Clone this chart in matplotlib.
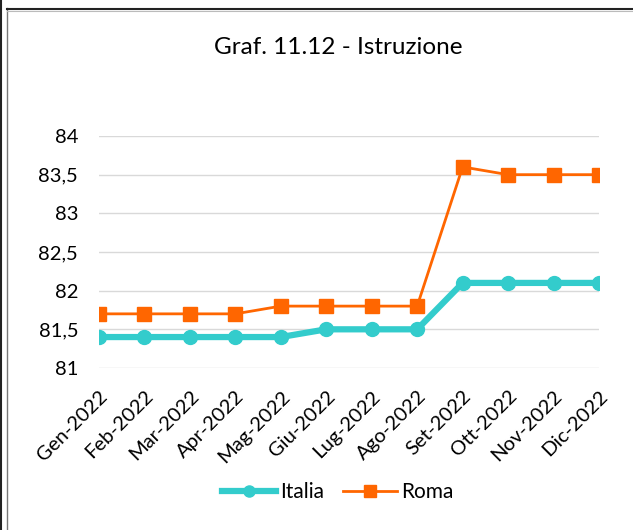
import matplotlib.pyplot as plt
from matplotlib.lines import Line2D
from matplotlib.ticker import FuncFormatter

plt.rcParams['font.family'] = ['Lato', 'DejaVu Sans']

# data
months = ['Gen-2022', 'Feb-2022', 'Mar-2022', 'Apr-2022', 'Mag-2022', 'Giu-2022',
          'Lug-2022', 'Ago-2022', 'Set-2022', 'Ott-2022', 'Nov-2022', 'Dic-2022']
italia = [81.4, 81.4, 81.4, 81.4, 81.4, 81.5, 81.5, 81.5, 82.1, 82.1, 82.1, 82.1]
roma = [81.7, 81.7, 81.7, 81.7, 81.8, 81.8, 81.8, 81.8, 83.6, 83.5, 83.5, 83.5]
y_ticks = [81, 81.5, 82, 82.5, 83, 83.5, 84]

fig = plt.figure(figsize=(6.33, 5.30), dpi=100)
ax = fig.add_axes([0.1564, 0.3057, 0.7899, 0.4377])

x = list(range(len(months)))
ax.plot(x, italia, color='#33CCCC', lw=4.5, marker='o', markersize=10,
        label='Italia', solid_capstyle='round', zorder=3)
ax.plot(x, roma, color='#FF6600', lw=2, marker='s', markersize=10,
        label='Roma', zorder=4)

ax.set_xlim(0, len(months) - 1)
ax.set_ylim(81, 84)
ax.set_yticks(y_ticks)
ax.yaxis.set_major_formatter(FuncFormatter(lambda v, p: f'{v:g}'.replace('.', ',')))
ax.set_xticks(x)
ax.set_xticklabels(months, rotation=45, ha='right', rotation_mode='anchor')
ax.tick_params(axis='both', length=0, labelsize=14.5, colors='black')
ax.tick_params(axis='y', pad=15)
ax.tick_params(axis='x', pad=14)
ax.grid(axis='y', color='#D9D9D9', lw=1)
ax.set_axisbelow(True)
for s in ax.spines.values():
    s.set_visible(False)

fig.text(0.535, 0.911, 'Graf. 11.12 - Istruzione', ha='center', va='center', fontsize=17.5)

handles = [Line2D([], [], color='#33CCCC', lw=4.5, marker='o', markersize=8),
           Line2D([], [], color='#FF6600', lw=2, marker='s', markersize=8)]
fig.legend(handles, ['Italia', 'Roma'], loc='center', bbox_to_anchor=(0.534, 0.072),
           ncol=2, frameon=False, fontsize=15, handlelength=2.6, columnspacing=0.9,
           handletextpad=0.2)

# frame lines
fig.add_artist(Line2D([0.001, 0.001], [0, 1], color='#222222', lw=1.5, transform=fig.transFigure))
fig.add_artist(Line2D([0.0115, 0.0115], [0, 0.985], color='#777777', lw=1, transform=fig.transFigure))
fig.add_artist(Line2D([0.0115, 1], [0.983, 0.983], color='#222222', lw=1.5, transform=fig.transFigure))
fig.add_artist(Line2D([0.0115, 1], [0.980, 0.980], color='#BBBBBB', lw=0.8, transform=fig.transFigure))

fig.savefig('out.png', dpi=100)
